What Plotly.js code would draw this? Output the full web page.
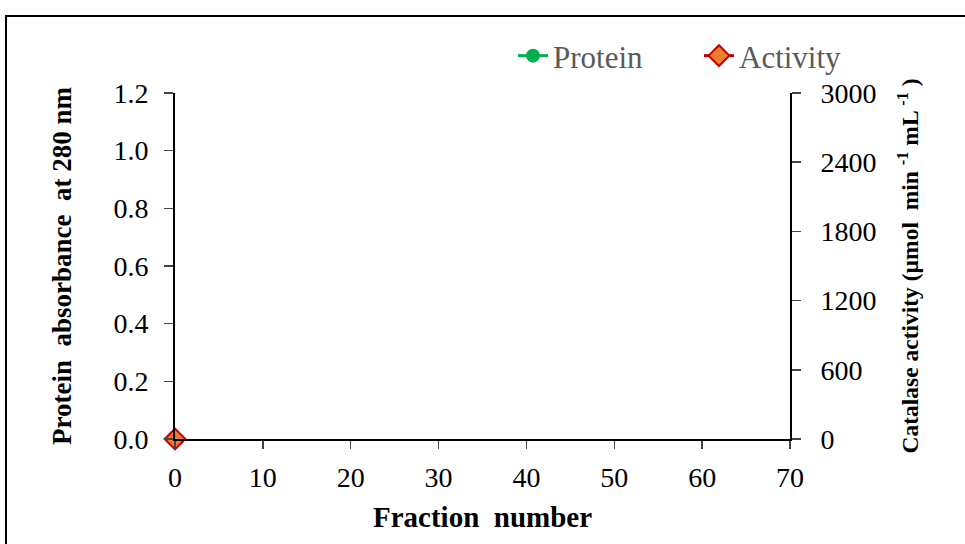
<!DOCTYPE html>
<html><head><meta charset="utf-8">
<script src="https://cdn.plot.ly/plotly-3.0.1.min.js"></script>
<style>html,body{margin:0;padding:0;background:#fff}</style>
</head><body>
<div id="chart" style="width:965px;height:544px"></div>
<script>
const fractions = [0];
const protein = [0];
const activity = [0];
const xTicks = [0,10,20,30,40,50,60,70];
const yLeftTicks = [0,0.2,0.4,0.6,0.8,1.0,1.2];
const yRightTicks = [0,600,1200,1800,2400,3000];

const FONT = 'Liberation Serif, Times New Roman, serif';
const traces = [
  {x: fractions, y: protein, name: 'Protein', type: 'scatter', mode: 'lines+markers',
   line: {color: '#00b050', width: 3}, marker: {symbol: 'circle', size: 14, color: '#00b050'},
   cliponaxis: false, yaxis: 'y', legend: 'legend'},
  {x: fractions, y: activity, name: 'Activity', type: 'scatter', mode: 'lines+markers',
   line: {color: '#c00000', width: 3},
   marker: {symbol: 'diamond', size: 16, color: '#ed7d31', line: {color: '#c00000', width: 2}},
   cliponaxis: false, yaxis: 'y2', legend: 'legend2'}
];
const L = 175, R = 790, T = 93, B = 439;
const px = v => (v - L) / (R - L);
const py = v => (B - v) / (B - T);
const legendFont = {family: FONT, size: 31, color: '#595959'};
const layout = {
  width: 965, height: 544,
  margin: {l: L, r: 965 - R, t: T, b: 544 - B},
  paper_bgcolor: '#fff', plot_bgcolor: '#fff',
  font: {family: FONT, color: '#000', size: 28},
  showlegend: true,
  legend: {orientation: 'h', x: px(513), y: py(29), xanchor: 'left', yanchor: 'top',
           font: legendFont, bgcolor: 'rgba(0,0,0,0)'},
  legend2: {orientation: 'h', x: px(699), y: py(29), xanchor: 'left', yanchor: 'top',
           font: legendFont, bgcolor: 'rgba(0,0,0,0)'},
  xaxis: {range: [0, 70], tickvals: xTicks, ticks: 'outside', ticklen: 8, tickwidth: 1.5,
          ticklabelstandoff: 4,
          showline: true, linecolor: '#000', linewidth: 2, showgrid: false, zeroline: false,
          tickfont: {family: FONT, size: 28},
          title: {text: '<b>Fraction  number</b>', font: {family: FONT, size: 29}, standoff: 15}},
  yaxis: {range: [0, 1.2], tickvals: yLeftTicks, tickformat: '.1f', ticks: 'outside', ticklen: 9, tickwidth: 1.5,
          ticklabelstandoff: 10,
          showline: true, linecolor: '#000', linewidth: 2, showgrid: false, zeroline: false,
          tickfont: {family: FONT, size: 28},
          title: {text: '<b>Protein  absorbance  at 280 nm</b>', font: {family: FONT, size: 27}, standoff: 34}},
  yaxis2: {range: [0, 3000], tickvals: yRightTicks, overlaying: 'y', side: 'right',
           ticks: 'outside', ticklen: 9, tickwidth: 1.5, ticklabelstandoff: 14,
           showline: true, linecolor: '#000', linewidth: 2, showgrid: false, zeroline: false,
           tickfont: {family: FONT, size: 28},
           title: {text: '<b>Catalase activity (µmol  min <sup>-1</sup> mL <sup>-1</sup> )</b>', font: {family: FONT, size: 23.5}, standoff: 26}},
  shapes: [{type: 'rect', xref: 'paper', yref: 'paper', x0: px(6), x1: px(1000), y0: py(600), y1: py(16),
            line: {color: '#000', width: 2}, fillcolor: 'rgba(0,0,0,0)', layer: 'below'}]
};
Plotly.newPlot('chart', traces, layout, {displayModeBar: false, staticPlot: true});
</script>
</body></html>
